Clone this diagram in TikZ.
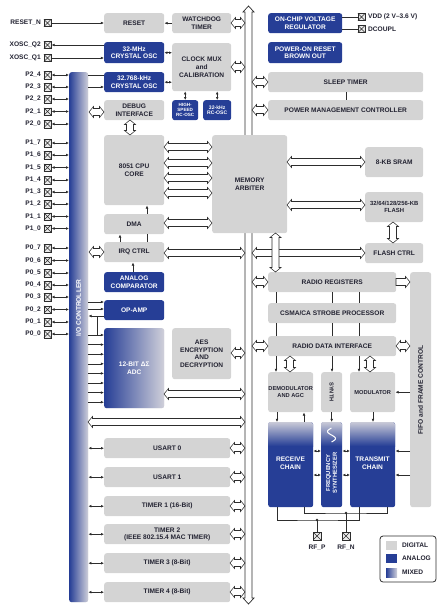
\documentclass[tikz,border=0pt]{standalone}
\usepackage{fontspec}
\setmainfont{Liberation Sans}
\usetikzlibrary{arrows.meta}
\definecolor{dgray}{RGB}{212,212,212}
\definecolor{ablue}{RGB}{38,62,150}
\definecolor{mixr}{RGB}{208,208,218}
\definecolor{txt}{RGB}{35,35,50}
\definecolor{linec}{RGB}{45,45,45}
\newcommand\lab{\bfseries\fontsize{6.6}{7.6}\selectfont}
\newcommand\mlab{\bfseries\fontsize{5.7}{6.8}\selectfont}
\newcommand\smlab{\bfseries\fontsize{4.6}{5.2}\selectfont}
\newcommand\blk[6][box]{\node[#1,minimum width={#5pt-#3pt},minimum height={#6pt-#4pt}] (#2) at (#3,#4)}
\newcommand\hh[3]{\draw[hol] (#1,#3) -- ({#1+4.5},{#3-5.5}) -- ({#1+4.5},{#3-3.5}) -- ({#2-4.5},{#3-3.5}) -- ({#2-4.5},{#3-5.5}) -- (#2,#3) -- ({#2-4.5},{#3+5.5}) -- ({#2-4.5},{#3+3.5}) -- ({#1+4.5},{#3+3.5}) -- ({#1+4.5},{#3+5.5}) -- cycle;}
\newcommand\hr[3]{\draw[hol] (#1,{#3-3.5}) -- ({#2-4.5},{#3-3.5}) -- ({#2-4.5},{#3-5.5}) -- (#2,#3) -- ({#2-4.5},{#3+5.5}) -- ({#2-4.5},{#3+3.5}) -- (#1,{#3+3.5}) -- cycle;}
\newcommand\vv[3]{\draw[hol] (#1,#2) -- ({#1-5.5},{#2+4.5}) -- ({#1-3.5},{#2+4.5}) -- ({#1-3.5},{#3-4.5}) -- ({#1-5.5},{#3-4.5}) -- (#1,#3) -- ({#1+5.5},{#3-4.5}) -- ({#1+3.5},{#3-4.5}) -- ({#1+3.5},{#2+4.5}) -- ({#1+5.5},{#2+4.5}) -- cycle;}
\tikzset{
  box/.style={rounded corners=2.5pt, fill=dgray, text=txt, font=\lab, align=center, inner sep=0pt, anchor=north west},
  bbox/.style={box, fill=ablue, text=white},
  mbox/.style={box, left color=ablue, right color=mixr, text=white},
  arr/.style={-{Latex[length=3.2pt,width=2.8pt]}, line width=0.6pt, draw=linec},
  darr/.style={{Latex[length=3pt,width=2.8pt]}-{Latex[length=3pt,width=2.8pt]}, line width=0.6pt, draw=linec},
  ln/.style={draw=linec, line width=0.6pt},
  hol/.style={draw=linec, fill=white, line width=0.55pt, line join=miter},
  pinb/.style={draw=linec, fill=dgray!50, line width=0.5pt, minimum size=7.5pt, inner sep=0pt,
    path picture={\draw[linec, line width=0.5pt] (path picture bounding box.south west) -- (path picture bounding box.north east) (path picture bounding box.north west) -- (path picture bounding box.south east);}},
  pinl/.style={anchor=east, font=\lab, text=txt, inner sep=0pt},
  lbl/.style={font=\lab, text=txt, inner sep=0pt, align=center},
}
\begin{document}
\begin{tikzpicture}[x=1pt,y=-1pt]
\useasboundingbox (0,0) rectangle (444,610);
% main bus
\draw[hol, line width=0.7pt] (248.5,6) -- (254,12) -- (252,12) -- (252,598) -- (254,598) -- (248.5,604) -- (243,598) -- (245,598) -- (245,12) -- (243,12) -- cycle;
% I/O controller
\blk[mbox]{io}{69}{72}{88}{602}{};
\node[rotate=90, font=\lab, text=white] (iolbl) at (78.5,308) {I/O CONTROLLER};
% left column blocks
\blk{reset}{104}{13}{164}{33}{RESET};
\blk{wd}{172}{13}{231}{33}{WATCHDOG\\TIMER};
\blk[bbox]{osc32m}{104}{42}{164}{63}{32-MHz\\CRYSTAL OSC};
\blk{mux}{172}{43}{231}{91}{CLOCK MUX\\and\\CALIBRATION};
\blk[bbox]{osc32k}{104}{72}{164}{92}{32.768-kHz\\CRYSTAL OSC};
\blk{dbg}{104}{100}{164}{120}{DEBUG\\INTERFACE};
\blk[bbox,font=\smlab]{rchs}{172}{100}{198}{120}{HIGH-\\SPEED\\RC-OSC};
\blk[bbox,font=\bfseries\fontsize{5.1}{5.9}\selectfont]{rc32}{203}{100}{231}{120}{32-kHz\\RC-OSC};
\blk{cpu}{104}{135}{164}{205}{8051 CPU\\CORE};
\blk{dma}{104}{214}{164}{234}{DMA};
\blk{irq}{104}{242}{164}{262}{IRQ CTRL};
\blk[bbox]{comp}{104}{272}{164}{292}{ANALOG\\COMPARATOR};
\blk[bbox]{opamp}{104}{300}{164}{320}{OP-AMP};
\blk[mbox]{adc}{104}{328}{164}{408}{12-BIT ΔΣ\\ADC};
\blk{aes}{172}{328}{231}{379}{AES\\ENCRYPTION\\AND\\DECRYPTION};
\blk{u0}{104}{438}{230}{458}{USART 0};
\blk{u1}{104}{467}{230}{487}{USART 1};
\blk{t1}{104}{496}{230}{516}{TIMER 1 (16-Bit)};
\blk{t2}{104}{524}{230}{544}{TIMER 2\\(IEEE 802.15.4 MAC TIMER)};
\blk{t3}{104}{553}{230}{573}{TIMER 3 (8-Bit)};
\blk{t4}{104}{582}{230}{602}{TIMER 4 (8-Bit)};
% right column
\blk[bbox]{reg}{268}{13}{342}{33}{ON-CHIP VOLTAGE\\REGULATOR};
\blk[bbox]{por}{268}{42}{342}{63}{POWER-ON RESET\\BROWN OUT};
\blk{sleep}{268}{72}{423}{92}{SLEEP TIMER};
\blk{pmc}{268}{100}{423}{120}{POWER MANAGEMENT CONTROLLER};
\blk{arb}{212}{135}{287}{233}{MEMORY\\ARBITER};
\blk{sram}{365}{147}{423}{177}{8-KB SRAM};
\blk[box,font=\bfseries\fontsize{5.9}{7}\selectfont]{flash}{365}{192}{423}{222}{32/64/128/256-KB\\FLASH};
\blk{fctrl}{365}{243}{423}{263}{FLASH CTRL};
\blk{rr}{268}{272}{396}{292}{RADIO REGISTERS};
\blk{csma}{268}{303}{396}{323}{CSMA/CA STROBE PROCESSOR};
\blk{rdi}{268}{336}{396}{356}{RADIO DATA INTERFACE};
\blk{fifo}{410}{272}{431}{507}{};
\node[rotate=90, lbl] (fifolbl) at (420.5,390) {FIFO and FRAME CONTROL};
\blk[box,font=\mlab]{demod}{268}{372}{313}{412}{DEMODULATOR\\AND AGC};
\blk{synth}{321}{372}{342}{412}{};
\node[rotate=-90, lbl, font=\mlab] (synthlbl) at (331.5,392) {SYNTH};
\blk[box,font=\mlab]{mod}{350}{372}{395}{412}{MODULATOR};
\blk[bbox]{rx}{268}{422}{313}{507}{};
\blk[bbox]{fs}{321}{422}{342}{507}{};
\blk[bbox]{tx}{350}{422}{395}{507}{};
\foreach \a/\b in {268/313,321/342,350/395}{
  \begin{scope}
    \clip[rounded corners=2.5pt] (\a,422) rectangle (\b,507);
    \shade[top color=mixr, bottom color=ablue] (\a,421) rectangle (\b,446);
  \end{scope}}
\node[lbl, text=white] (rxlbl) at (290.5,463.5) {RECEIVE\\CHAIN};
\node[lbl, text=white] (txlbl) at (372.5,463.5) {TRANSMIT\\CHAIN};
\node[rotate=90, lbl, text=white, font=\bfseries\fontsize{5.8}{6.9}\selectfont] (fslbl) at (331.5,473) {FREQUENCY\\SYNTHESIZER};
\draw[white, line width=1pt] plot[domain=0:1, samples=30, smooth] ({331.5+4*sin(360*\x)}, {442-14*\x});
% pins left
\node[pinb] (rstn) at (47.5,23) {};  \node[pinl] (rstnl) at (41,23) {RESET\_N};
\node[pinb] (xq2) at (47.5,45) {};   \node[pinl] (xq2l) at (41,45) {XOSC\_Q2};
\node[pinb] (xq1) at (47.5,58) {};   \node[pinl] (xq1l) at (41,58) {XOSC\_Q1};
\draw[arr] (rstn.east) -- (reset.west |- rstn.east);
\draw[arr] (osc32m.west |- xq2.east) -- (xq2.east);
\draw[arr] (xq1.east) -- (osc32m.west |- xq1.east);
\foreach \nm/\yy/\tx in {p24/75/P2\_4, p23/87/P2\_3, p22/99/P2\_2, p21/111.5/P2\_1, p20/124/P2\_0,
  p17/143/P1\_7, p16/155/P1\_6, p15/167.5/P1\_5, p14/180/P1\_4, p13/192/P1\_3, p12/204/P1\_2, p11/216.5/P1\_1, p10/228.5/P1\_0,
  p07/248/P0\_7, p06/260.5/P0\_6, p05/273/P0\_5, p04/285/P0\_4, p03/297/P0\_3, p02/309.5/P0\_2, p01/322/P0\_1, p00/334/P0\_0}{
  \node[pinb] (\nm) at (47.5,\yy) {};
  \node[pinl] at (41,\yy) {\tx};
  \draw[darr] (\nm.east) -- (io.west |- \nm.east);
}
% VDD pins
\node[pinb] (vdd) at (361.5,17) {};
\node[pinb] (dcp) at (361.5,29) {};
\node[lbl, anchor=west] (vddl) at (368,17) {VDD (2 V–3.6 V)};
\node[lbl, anchor=west] (dcpl) at (368,29) {DCOUPL};
\draw[ln] (reg.east |- vdd.west) -- (vdd.west);
\draw[ln] (reg.east |- dcp.west) -- (dcp.west);
% thin connectors
\draw[arr] (wd.west) -- (reset.east);
\draw[darr] (osc32m.east) -- (mux.west |- osc32m.east);
\draw[darr] (osc32k.east) -- (mux.west |- osc32k.east);
\draw[darr] (rchs.north) -- (rchs.north |- mux.south);
\draw[darr] (rc32.north) -- (rc32.north |- mux.south);
\draw[ln] (io.east |- 0,75) -- (osc32k.west |- 0,75);
\draw[arr] (io.east |- 0,87) -- (osc32k.west |- 0,87);
\draw[ln] (sleep.south -| 346,0) -- (pmc.north -| 346,0);
\draw[arr] (dma.north -| 147,0) -- (cpu.south -| 147,0);
\draw[ln] (irq.north -| 147,0) -- (dma.south -| 147,0);
\draw[arr] (irq.north -| 120,0) -- (dma.south -| 120,0);
\draw[arr] (comp.north -| 133,0) -- (irq.south -| 133,0);
\draw[arr] (io.east |- 0,302) -- (opamp.west |- 0,302);
\draw[arr] (io.east |- 0,309) -- (opamp.west |- 0,309);
\draw[arr] (opamp.west |- 0,316) -- (io.east |- 0,316);
\draw[ln] (97,316) -- (97,335);
\foreach \yy in {335,344.6,354.2,363.8,373.4,383,392.6,402.2}{
  \draw[arr] (io.east |- 0,\yy) -- (adc.west |- 0,\yy);}
\foreach \nm in {u0,u1,t1,t2,t3,t4}{
  \draw[darr] (io.east |- \nm.west) -- (\nm.west);}
% radio connectors
\foreach \xx in {276,332,359}{
  \draw[ln] (rr.south -| \xx,0) -- (csma.north -| \xx,0);
  \draw[ln] (csma.south -| \xx,0) -- (rdi.north -| \xx,0);}
\draw[arr] (rdi.south -| 276,0) -- (demod.north -| 276,0);
\draw[arr] (rdi.south -| 332,0) -- (synth.north -| 332,0);
\draw[arr] (rdi.south -| 359,0) -- (mod.north -| 359,0);
\vv{290}{356}{372}
\vv{370}{356}{372}
\draw[arr] (demod.south -| 277,0) -- (rx.north -| 277,0);
\draw[arr] (rx.north -| 304,0) -- (demod.south -| 304,0);
\draw[arr] (synth.south) -- (fs.north);
\draw[arr] (mod.south -| 373,0) -- (tx.north -| 373,0);
\draw[arr] (fifo.west |- mod.east) -- (mod.east);
\foreach \yy in {451,475}{
  \draw[darr] (fs.west |- 0,\yy) -- (rx.east |- 0,\yy);
  \draw[darr] (fs.east |- 0,\yy) -- (tx.west |- 0,\yy);
  \draw[arr] (fifo.west |- 0,\yy) -- (tx.east |- 0,\yy);}
% RF wiring
\coordinate (jp) at (317,520);
\coordinate (jn) at (346,513);
\draw[ln] (rx.south -| 277,0) |- (jp) -| (tx.south -| 359,0);
\draw[ln] (rx.south -| 304,0) |- (jn) -| (tx.south -| 387,0);
\node[pinb] (rfp) at (317,536) {};
\node[pinb] (rfn) at (346,536) {};
\draw[ln] (rfp.north) -- (jp);
\draw[ln] (rfn.north) -- (jn);
\fill[linec] (jp) circle (1.4pt);
\fill[linec] (jn) circle (1.4pt);
\node[lbl] (rfpl) at (317,548) {RF\_P};
\node[lbl] (rfnl) at (346,548) {RF\_N};
% hollow bus arrows
\hh{231}{245}{23}
\hh{231}{245}{67}
\hh{252}{268}{82}
\hh{252}{268}{110}
\hh{89}{104}{112}
\vv{130}{120}{135}
\foreach \yy in {147,163,178,193,223}{\hh{164}{212}{\yy}}
\hh{287}{365}{162}
\hh{287}{365}{205}
\vv{393}{222}{243}
\hh{89}{104}{252}
\hh{164}{245}{253}
\hh{252}{365}{253}
\vv{275.5}{233}{272}
\hh{252}{268}{282}
\hr{396}{410}{282}
\hh{252}{268}{346}
\hh{396}{410}{346}
\hh{231}{245}{353}
\hh{164}{245}{394}
\hh{88}{245}{422}
\foreach \yy in {448,477,506,534,563,592}{\hh{230}{245}{\yy}}
% legend
\draw[draw=linec, line width=0.8pt, rounded corners=3pt] (380,536) rectangle (436,582);
\fill[dgray] (386,541) rectangle (397,550);
\fill[ablue] (386,554) rectangle (397,563);
\shade[left color=ablue, right color=mixr] (386,568) rectangle (397,577);
\node[lbl, anchor=west] (lg1) at (402,545.5) {DIGITAL};
\node[lbl, anchor=west] (lg2) at (402,558.5) {ANALOG};
\node[lbl, anchor=west] (lg3) at (402,572.5) {MIXED};
\end{tikzpicture}
\end{document}
